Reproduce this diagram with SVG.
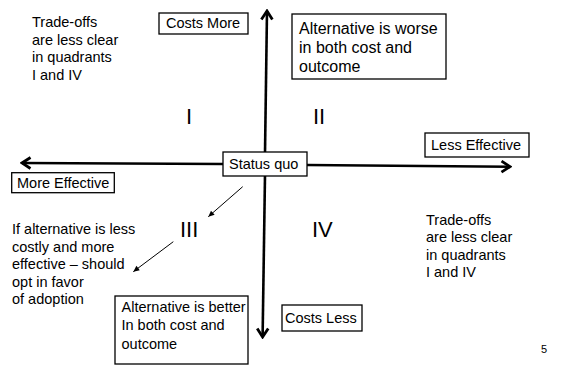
<svg xmlns="http://www.w3.org/2000/svg" width="577" height="365" viewBox="0 0 577 365">
<style>
text{font-family:"Liberation Sans",Arial,sans-serif;fill:#000}
.t{font-size:14.5px}
.b{font-size:16px}
.q{font-size:22px}
.box{fill:#fff;stroke:#000;stroke-width:1.3}
.axis{stroke:#000;stroke-width:2.6;fill:none}
.thin{stroke:#000;stroke-width:1;fill:none}
</style>
<defs>
<marker id="ah" markerUnits="userSpaceOnUse" viewBox="-12 -7 14 14" refX="0" refY="0" markerWidth="14" markerHeight="14" orient="auto">
<path d="M-8.5,-5.5 L0,0 L-8.5,5.5" fill="none" stroke="#000" stroke-width="2.8"/>
</marker>
<marker id="sh" markerUnits="userSpaceOnUse" viewBox="-8 -4 9 8" refX="0" refY="0" markerWidth="9" markerHeight="8" orient="auto">
<path d="M-6,-2.8 L0,0 L-6,2.8 Z" fill="#000"/>
</marker>
</defs>
<g id="connectors">
<line class="axis" x1="265" y1="153" x2="267" y2="11" marker-end="url(#ah)"/>
<line class="axis" x1="265" y1="175" x2="262.6" y2="337" marker-end="url(#ah)"/>
<line class="axis" x1="223" y1="164" x2="22" y2="163" marker-end="url(#ah)"/>
<line class="axis" x1="307" y1="165" x2="510" y2="166.7" marker-end="url(#ah)"/>
<line class="thin" x1="242.7" y1="186.7" x2="208.3" y2="216.7" marker-end="url(#sh)"/>
<line class="thin" x1="173.3" y1="241.7" x2="133.3" y2="271.7" marker-end="url(#sh)"/>
</g>
<g id="status-quo">
<rect class="box" x="223" y="152" width="84" height="24"/>
<text class="t" x="229" y="169">Status quo</text>
</g>
<g id="costs-more">
<rect class="box" x="159" y="13" width="89" height="21"/>
<text class="t" x="166" y="28">Costs More</text>
</g>
<g id="costs-less">
<rect class="box" x="282" y="305" width="80" height="26"/>
<text class="t" x="285" y="323">Costs Less</text>
</g>
<g id="more-effective">
<rect class="box" x="11.7" y="172.7" width="102.6" height="20"/>
<text class="t" x="17" y="188">More Effective</text>
</g>
<g id="less-effective">
<rect class="box" x="425" y="133" width="104" height="24"/>
<text class="t" x="431" y="149.5">Less Effective</text>
</g>
<g id="worse">
<rect class="box" x="292" y="14" width="154" height="65"/>
<text class="b" x="299" y="33.5">Alternative is worse</text>
<text class="b" x="299" y="52.5">in both cost and</text>
<text class="b" x="299" y="71.5">outcome</text>
</g>
<g id="better">
<rect class="box" x="115" y="296" width="133" height="68"/>
<text class="t" x="121.5" y="312">Alternative is better</text>
<text class="t" x="121.5" y="330">In both cost and</text>
<text class="t" x="121.5" y="348.5">outcome</text>
</g>
<g id="tradeoffs-left">
<text class="t" x="32" y="27">Trade-offs</text>
<text class="t" x="32" y="44.5">are less clear</text>
<text class="t" x="32" y="62">in quadrants</text>
<text class="t" x="32" y="80">I and IV</text>
</g>
<g id="tradeoffs-right">
<text class="t" x="426" y="224.5">Trade-offs</text>
<text class="t" x="426" y="242">are less clear</text>
<text class="t" x="426" y="259.5">in quadrants</text>
<text class="t" x="426" y="277">I and IV</text>
</g>
<g id="adopt-note">
<text class="t" x="12" y="233.5">If alternative is less</text>
<text class="t" x="12" y="251.5">costly and more</text>
<text class="t" x="12" y="269">effective – should</text>
<text class="t" x="12" y="286.5">opt in favor</text>
<text class="t" x="12" y="303.5">of adoption</text>
</g>
<g id="quadrants">
<text class="q" x="186" y="123.5">I</text>
<text class="q" x="313" y="123.5">II</text>
<text class="q" x="180" y="236.7">III</text>
<text class="q" x="312" y="236.7">IV</text>
</g>
<text x="541" y="353" style="font-size:11px">5</text>
</svg>
